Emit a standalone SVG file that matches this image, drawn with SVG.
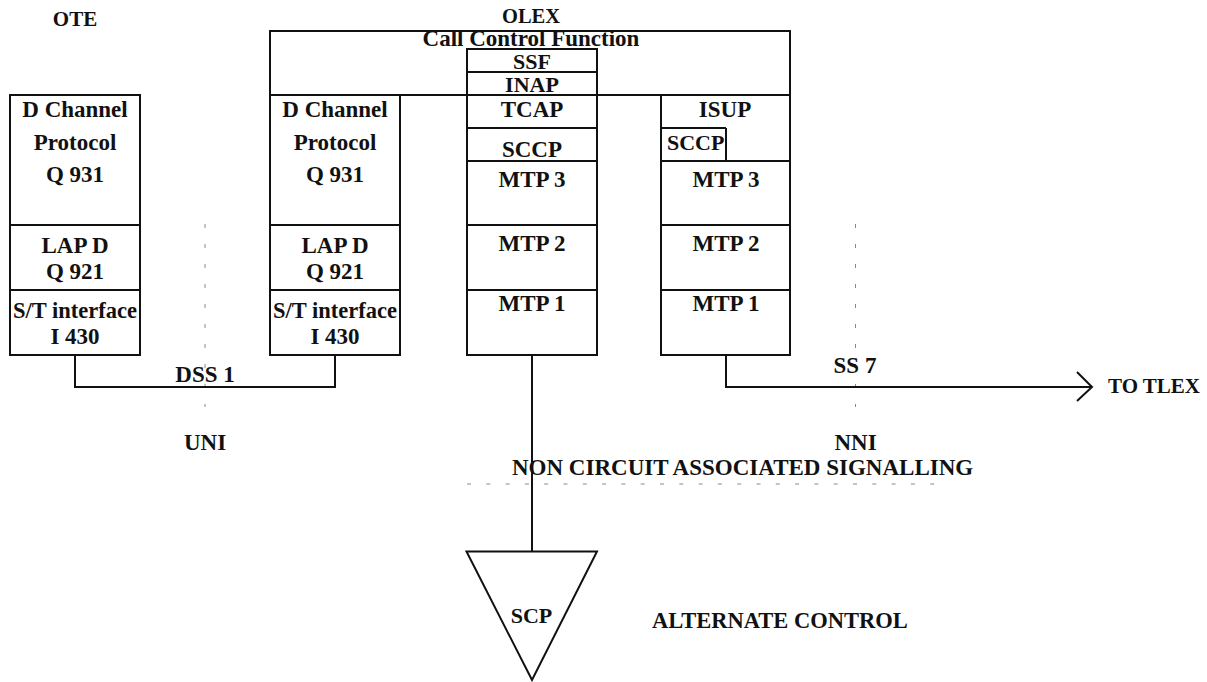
<svg xmlns="http://www.w3.org/2000/svg" width="1207" height="682" viewBox="0 0 1207 682">
  <style>
    text { font-family: "Liberation Serif", "Times New Roman", serif; font-weight: bold; font-size: 23px; fill: #111; }
    .m { text-anchor: middle; }
    .box { fill: none; stroke: #111; stroke-width: 2; }
    .ln { fill: none; stroke: #111; stroke-width: 2; }
    .dash { fill: none; stroke: #888; stroke-width: 1; stroke-dasharray: 4 16; }
    .dashh { fill: none; stroke: #888; stroke-width: 1; stroke-dasharray: 4 15.3; }
  </style>
  <rect width="1207" height="682" fill="#fff"/>

  <text id="lbl-ote" class="m" x="75" y="26" style="font-size:21px">OTE</text>
  <text id="lbl-olex" class="m" x="531" y="23" style="font-size:20.5px">OLEX</text>

  <g id="ote-stack">
    <rect class="box" x="10" y="95" width="130" height="260"/>
    <line class="ln" x1="10" y1="225" x2="140" y2="225"/>
    <line class="ln" x1="10" y1="290" x2="140" y2="290"/>
    <text class="m" x="75" y="117">D Channel</text>
    <text class="m" x="75" y="150">Protocol</text>
    <text class="m" x="75" y="182">Q 931</text>
    <text class="m" x="75" y="253">LAP D</text>
    <text class="m" x="75" y="279">Q 921</text>
    <text class="m" x="75" y="318" style="font-size:22.5px">S/T interface</text>
    <text class="m" x="75" y="344">I 430</text>
  </g>

  <g id="olex-call-control">
    <rect class="box" x="270" y="31" width="520" height="64"/>
    <text class="m" x="531" y="46">Call Control Function</text>
  </g>

  <g id="olex-dss1-stack">
    <rect class="box" x="270" y="95" width="130" height="260"/>
    <line class="ln" x1="270" y1="225" x2="400" y2="225"/>
    <line class="ln" x1="270" y1="290" x2="400" y2="290"/>
    <text class="m" x="335" y="117">D Channel</text>
    <text class="m" x="335" y="150">Protocol</text>
    <text class="m" x="335" y="182">Q 931</text>
    <text class="m" x="335" y="253">LAP D</text>
    <text class="m" x="335" y="279">Q 921</text>
    <text class="m" x="335" y="318" style="font-size:22.5px">S/T interface</text>
    <text class="m" x="335" y="344">I 430</text>
  </g>

  <g id="olex-inap-stack">
    <rect class="box" x="467" y="49" width="130" height="306"/>
    <line class="ln" x1="467" y1="72" x2="597" y2="72"/>
    <line class="ln" x1="467" y1="95" x2="597" y2="95"/>
    <line class="ln" x1="467" y1="128" x2="597" y2="128"/>
    <line class="ln" x1="467" y1="161" x2="597" y2="161"/>
    <line class="ln" x1="467" y1="225" x2="597" y2="225"/>
    <line class="ln" x1="467" y1="290" x2="597" y2="290"/>
    <text class="m" x="532" y="69" style="font-size:22px">SSF</text>
    <text class="m" x="532" y="92" style="font-size:22px">INAP</text>
    <text class="m" x="532" y="117">TCAP</text>
    <text class="m" x="532" y="157">SCCP</text>
    <text class="m" x="532" y="187">MTP 3</text>
    <text class="m" x="532" y="251">MTP 2</text>
    <text class="m" x="532" y="311">MTP 1</text>
  </g>

  <g id="olex-isup-stack">
    <rect class="box" x="661" y="95" width="129" height="260"/>
    <line class="ln" x1="661" y1="128" x2="726" y2="128"/>
    <line class="ln" x1="726" y1="128" x2="726" y2="161"/>
    <line class="ln" x1="661" y1="161" x2="790" y2="161"/>
    <line class="ln" x1="661" y1="225" x2="790" y2="225"/>
    <line class="ln" x1="661" y1="290" x2="790" y2="290"/>
    <text class="m" x="725" y="117">ISUP</text>
    <text x="667" y="150" style="font-size:22px">SCCP</text>
    <text class="m" x="726" y="187">MTP 3</text>
    <text class="m" x="726" y="251">MTP 2</text>
    <text class="m" x="726" y="311">MTP 1</text>
  </g>

  <g id="scp">
    <polygon class="box" points="466.5,551.5 597,551.5 532,680"/>
    <text class="m" x="531.5" y="623" style="font-size:22px">SCP</text>
  </g>

  <g id="boundaries">
    <line class="dash" x1="205" y1="224" x2="205" y2="407"/>
    <line class="dash" x1="855.5" y1="224" x2="855.5" y2="407"/>
    <line class="dashh" x1="467" y1="484" x2="945" y2="484"/>
  </g>

  <g id="connectors">
    <polyline class="ln" points="75,355 75,387 335,387 335,355"/>
    <polyline class="ln" points="726,355 726,387 1092,387"/>
    <polyline class="ln" points="1077,372 1092,387 1077,401"/>
    <line class="ln" x1="532" y1="355" x2="532" y2="551.5"/>
  </g>

  <g id="labels">
    <text class="m" x="205" y="382">DSS 1</text>
    <text class="m" x="855" y="373">SS 7</text>
    <text x="1108" y="393" style="font-size:21px">TO TLEX</text>
    <text class="m" x="205" y="450">UNI</text>
    <text class="m" x="855.5" y="450">NNI</text>
    <text x="512" y="475">NON CIRCUIT ASSOCIATED SIGNALLING</text>
    <text x="652" y="628" style="font-size:22.5px">ALTERNATE CONTROL</text>
  </g>
</svg>
